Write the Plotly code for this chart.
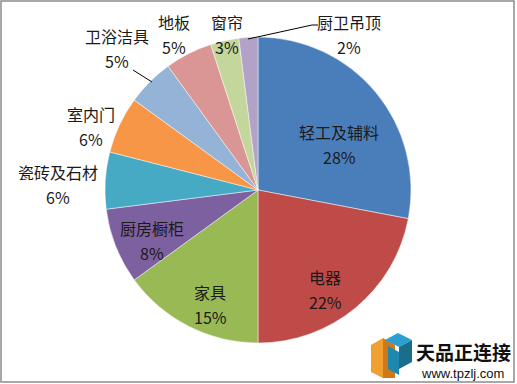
import plotly.graph_objects as go

categories = ["轻工及辅料", "电器", "家具", "厨房橱柜", "瓷砖及石材", "室内门", "卫浴洁具", "地板", "窗帘", "厨卫吊顶"]
values = [28, 22, 15, 8, 6, 6, 5, 5, 3, 2]
colors = ["#4A7EBB", "#BE4B48", "#98B954", "#7D60A0", "#46AAC5", "#F79646",
          "#95B3D7", "#D99694", "#C3D69B", "#B3A2C7"]

W, H = 517, 384
cx, cy, r = 258, 190, 153

# label anchor positions (pixels, top-left origin): name line centre
label_pos = [(339, 132), (325, 277), (210, 292), (152, 228), (58, 172),
             (91, 114), (117, 36), (174, 22), (227, 22), (349, 22)]
pct_dy = 25


def px(x, y):
    return x / W, 1 - y / H


fig = go.Figure(go.Pie(
    labels=categories,
    values=values,
    sort=False,
    direction="clockwise",
    rotation=0,
    marker=dict(colors=colors, line=dict(color="rgba(255,255,255,0.6)", width=0.8)),
    textinfo="none",
    showlegend=False,
    hoverinfo="label+percent",
    domain=dict(x=[(cx - r) / W, (cx + r) / W], y=[(H - cy - r) / H, (H - cy + r) / H]),
))

total = sum(values)
annotations = []
for name, v, (lx, ly) in zip(categories, values, label_pos):
    x0, y0 = px(lx, ly)
    x1, y1 = px(lx, ly + pct_dy)
    annotations.append(dict(x=x0, y=y0, xref="paper", yref="paper", text=name, showarrow=False,
                            xanchor="center", yanchor="middle",
                            font=dict(family="Noto Sans CJK SC", size=16, color="#1a1a1a")))
    annotations.append(dict(x=x1, y=y1, xref="paper", yref="paper", text=f"{round(v / total * 100)}%",
                            showarrow=False, xanchor="center", yanchor="middle",
                            font=dict(family="Noto Sans CJK SC", size=16, color="#1a1a1a")))

# watermark
annotations.append(dict(x=px(463, 351)[0], y=px(463, 351)[1], xref="paper", yref="paper",
                        text="天品正连接", showarrow=False, xanchor="center", yanchor="middle",
                        font=dict(family="Noto Sans CJK SC", size=19, color="#111111", weight=600)))
annotations.append(dict(x=px(462, 373)[0], y=px(462, 373)[1], xref="paper", yref="paper",
                        text="www.tpzlj.com", showarrow=False, xanchor="center", yanchor="middle",
                        font=dict(family="Liberation Sans", size=13, color="#111111")))


def path(points):
    pts = [px(x, y) for x, y in points]
    return "M " + " L ".join(f"{a:.4f} {b:.4f}" for a, b in pts) + " Z"


def seg(p, q):
    a, b = px(*p)
    c, d = px(*q)
    return dict(type="line", xref="paper", yref="paper", x0=a, y0=b, x1=c, y1=d,
                line=dict(color="#000000", width=1))


shapes = [
    dict(type="rect", xref="paper", yref="paper",
         x0=px(1, 0)[0], x1=px(514, 0)[0], y0=px(0, 382)[1], y1=px(0, 1)[1],
         line=dict(color="#8c8c8c", width=1.5)),
    # leader lines
    seg((133, 70), (152, 82)),
    seg((248, 39), (312, 25)),
    seg((312, 25), (318, 25)),
    # logo icon
    dict(type="path", xref="paper", yref="paper",
         path=path([(371, 345), (383, 338), (383, 378), (371, 372)]),
         fillcolor="#F0A030", line=dict(width=0)),
    dict(type="path", xref="paper", yref="paper",
         path=path([(383, 338), (395, 345), (395, 378), (383, 378)]),
         fillcolor="#D07818", line=dict(width=0)),
    dict(type="path", xref="paper", yref="paper",
         path=path([(385, 340), (398, 333), (412, 340), (399, 347)]),
         fillcolor="#2A9FD0", line=dict(width=0)),
    dict(type="path", xref="paper", yref="paper",
         path=path([(399, 347), (412, 340), (412, 362), (399, 369)]),
         fillcolor="#1A6E8C", line=dict(width=0)),
    dict(type="path", xref="paper", yref="paper",
         path=path([(388, 346), (399, 352), (399, 375), (388, 369)]),
         fillcolor="#1E88B0", line=dict(width=0)),
]

fig.update_layout(
    width=W, height=H,
    margin=dict(l=0, r=0, t=0, b=0),
    paper_bgcolor="white",
    font=dict(family="Noto Sans CJK SC"),
    shapes=shapes,
    annotations=annotations,
)
fig.write_html(
    "out.html",
    config={"displayModeBar": False},
    post_script="document.body.style.margin='0';document.body.style.overflow='hidden';",
)
